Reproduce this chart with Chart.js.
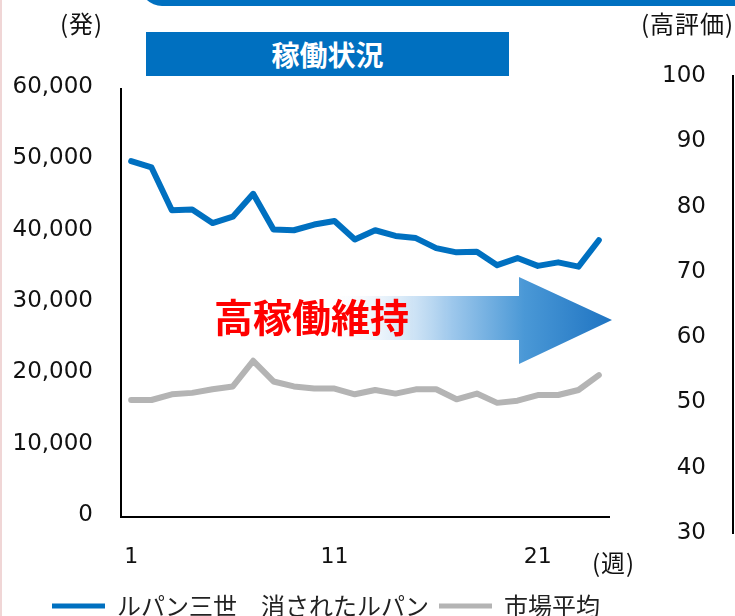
<!DOCTYPE html>
<html>
<head>
<meta charset="utf-8">
<script src="https://cdn.jsdelivr.net/npm/chart.js@4/dist/chart.umd.min.js"></script>
<style>
  html, body { margin: 0; padding: 0; background: #fff; overflow: hidden; }
  #page { position: relative; width: 735px; height: 616px; overflow: hidden; background: #fff; }
  #main { position: absolute; left: 0; top: 0; }
  #right { position: absolute; left: 620px; top: 0; }
  .jp { position: absolute; font-family: "Noto Sans CJK JP", sans-serif; color: #111; white-space: nowrap; }
  #edge { position: absolute; left: 0; top: 0; width: 2px; height: 616px; background: #f0d6d6; }
  #topbar { position: absolute; left: 140px; top: -40px; width: 720px; height: 46px; background: #0070c0; border-radius: 22px; }
  #titlebox { position: absolute; left: 146px; top: 32px; width: 363px; height: 44px; background: #0070c0; color: #fff;
    font: bold 28px "Noto Sans CJK JP", sans-serif; text-align: center; line-height: 44px; }
  #arrow { position: absolute; left: 0; top: 0; }
  #keep { position: absolute; left: 214px; top: 292px; font: bold 39px "Noto Sans CJK JP", sans-serif; color: #ff0000; line-height: 46px; white-space: nowrap; }
</style>
</head>
<body>
<div id="page">
  <canvas id="main" width="735" height="628" style="width:735px;height:628px"></canvas>
  <canvas id="right" width="115" height="616" style="width:115px;height:616px"></canvas>
  <div id="edge"></div>
  <div id="topbar"></div>
  <div id="titlebox">稼働状況</div>
  <div class="jp" style="left:60px;top:9px;font-size:24px;line-height:27px;letter-spacing:1px">(発)</div>
  <div class="jp" style="left:641px;top:9px;font-size:24px;line-height:27px;letter-spacing:1px">(高評価)</div>
  <div class="jp" style="left:592px;top:548px;font-size:24px;line-height:27px;letter-spacing:1px">(週)</div>
  <svg id="arrow" width="735" height="616">
    <defs>
      <linearGradient id="ag" x1="320" y1="0" x2="612" y2="0" gradientUnits="userSpaceOnUse">
        <stop offset="0" stop-color="#ffffff" stop-opacity="0"/>
        <stop offset="0.45" stop-color="#9ec8ec"/>
        <stop offset="0.7" stop-color="#4a98d6"/>
        <stop offset="1" stop-color="#1f74c2"/>
      </linearGradient>
    </defs>
    <polygon points="300,296 519,296 519,277 612,320 519,364 519,340 300,340" fill="url(#ag)"/>
  </svg>
  <div id="keep">高稼働維持</div>
</div>
<script>
// ---- data ----
const weeks = ['1','2','3','4','5','6','7','8','9','10','11','12','13','14','15','16','17','18','19','20','21','22','23','24'];
const shownWeekLabels = ['1', '11', '21'];
const lupinValues = [49900, 49000, 43000, 43100, 41200, 42100, 45300, 40300, 40200, 41000, 41500, 38900,
                     40200, 39400, 39100, 37700, 37100, 37200, 35300, 36300, 35200, 35700, 35100, 38800];
const marketValues = [16400, 16400, 17200, 17400, 17900, 18300, 21900, 19000, 18300, 18000, 18000, 17200,
                      17800, 17300, 17900, 17900, 16500, 17300, 16000, 16300, 17100, 17100, 17800, 19900];
const seriesNames = ['ルパン三世　消されたルパン', '市場平均'];
const leftAxis = { min: 0, max: 60000, step: 10000 };
const rightAxis = { min: 30, max: 100, step: 10 };

const tickFont = { family: '"DejaVu Sans", sans-serif', size: 23 };

// shift the legend row so it starts where the reference's legend starts
const legendShift = {
  id: 'legendShift',
  afterLayout(chart) {
    const l = chart.legend;
    if (l) { l.left += 42; l.right += 42; }
  }
};

new Chart(document.getElementById('main'), {
  type: 'line',
  data: {
    labels: weeks,
    datasets: [
      { label: seriesNames[0], data: lupinValues, borderColor: '#0070c0', backgroundColor: '#0070c0',
        borderWidth: 6, pointRadius: 0, tension: 0, borderJoinStyle: 'round', borderCapStyle: 'round' },
      { label: seriesNames[1], data: marketValues, borderColor: '#b4b4b4', backgroundColor: '#b4b4b4',
        borderWidth: 6, pointRadius: 0, tension: 0, borderJoinStyle: 'round', borderCapStyle: 'round' }
    ]
  },
  options: {
    responsive: false,
    animation: false,
    devicePixelRatio: 1,
    layout: { padding: { top: 89, left: 0, right: 0, bottom: 0 } },
    plugins: {
      tooltip: { enabled: false },
      legend: {
        position: 'bottom',
        align: 'start',
        labels: {
          boxWidth: 53, boxHeight: 5, padding: 10, color: '#222',
          font: { family: '"Noto Sans CJK JP", sans-serif', size: 24 },
          generateLabels: (chart) => Chart.defaults.plugins.legend.labels.generateLabels(chart)
            .map(l => Object.assign({}, l, { fillStyle: l.strokeStyle, lineWidth: 0 }))
        }
      }
    },
    scales: {
      x: {
        offset: true,
        grid: { display: false, drawTicks: false },
        border: { display: true, color: '#000', width: 2 },
        ticks: {
          autoSkip: false, maxRotation: 0, padding: 27, color: '#111',
          font: { family: '"DejaVu Sans", sans-serif', size: 22 },
          callback: function (value) {
            const lab = this.getLabelForValue(value);
            return shownWeekLabels.includes(lab) ? lab : '';
          }
        },
        afterFit: (s) => { s.height = 67; }
      },
      y: {
        min: leftAxis.min, max: leftAxis.max,
        grid: { display: false, drawTicks: false },
        border: { display: true, color: '#000', width: 2 },
        ticks: {
          stepSize: leftAxis.step, padding: 28, color: '#111', font: tickFont, labelOffset: -2,
          callback: (v) => v.toLocaleString('en-US')
        },
        afterFit: (s) => { s.width = 121; }
      },
      spacer: {
        type: 'linear', position: 'right', display: true,
        grid: { display: false, drawTicks: false },
        border: { display: false },
        ticks: { display: false },
        afterFit: (s) => { s.width = 126; }
      }
    }
  },
  plugins: [legendShift]
});

new Chart(document.getElementById('right'), {
  type: 'line',
  data: { labels: [], datasets: [] },
  options: {
    responsive: false,
    animation: false,
    devicePixelRatio: 1,
    layout: { padding: { top: 76, left: 0, right: 0, bottom: 83 } },
    plugins: { legend: { display: false }, tooltip: { enabled: false } },
    scales: {
      x: { display: false },
      y: {
        position: 'left',
        min: rightAxis.min, max: rightAxis.max,
        grid: { display: false, drawTicks: false },
        border: { display: true, color: '#000', width: 2 },
        ticks: { stepSize: rightAxis.step, padding: 27, color: '#111', font: tickFont },
        afterFit: (s) => { s.width = 113; }
      }
    }
  }
});
</script>
</body>
</html>
